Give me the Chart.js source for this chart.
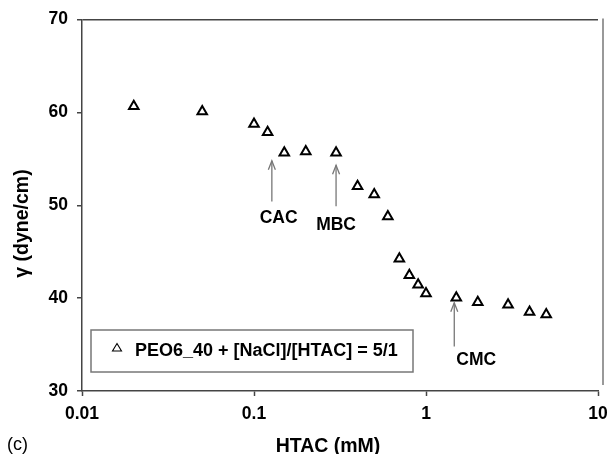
<!DOCTYPE html>
<html><head><meta charset="utf-8">
<script src="https://cdn.jsdelivr.net/npm/chart.js@4.4.1/dist/chart.umd.min.js"></script>
<style>html,body{margin:0;padding:0;background:#fff;overflow:hidden}#wrap{width:607px;height:454px;position:relative}</style>
</head><body><div id="wrap"><canvas id="c" width="607" height="454"></canvas></div>
<script>
// ---- data ----
const htacConc = [0.02, 0.05, 0.1, 0.12, 0.15, 0.2, 0.3, 0.4, 0.5, 0.6, 0.7, 0.8, 0.9, 1, 1.5, 2, 3, 4, 5];
const surfaceTension = [60.65, 60.1, 58.75, 57.85, 55.65, 55.8, 55.65, 52.05, 51.15, 48.8, 44.25, 42.45, 41.45, 40.5, 40.05, 39.55, 39.3, 38.5, 38.25];
const seriesLabel = 'PEO6_40 + [NaCl]/[HTAC] = 5/1';
const xTickValues = [0.01, 0.1, 1, 10];
const xTickLabels = ['0.01', '0.1', '1', '10'];
const yTickValues = [30, 40, 50, 60, 70];
const xAxisTitle = 'HTAC (mM)';
const yAxisTitle = 'γ (dyne/cm)';
const panelLabel = '(c)';
const markerNames = ['CAC', 'MBC', 'CMC'];
const markerConc = [0.127, 0.30, 1.46];
const arrowTipGamma = [54.8, 54.3, 39.5];
const arrowTailGamma = [50.4, 49.9, 34.8];
const markerTextConc = [0.139, 0.30, 1.96];
const markerTextGamma = [48.6, 47.9, 33.3];

const FONT = "'Liberation Sans', Arial, Helvetica, sans-serif";
const AXIS = '#444';

const extras = {
  id: 'extras',
  afterDraw(chart) {
    const ctx = chart.ctx, ca = chart.chartArea;
    const xs = chart.scales.x, ys = chart.scales.y;
    ctx.save();
    // right frame line
    ctx.strokeStyle = '#777'; ctx.lineWidth = 1.5;
    ctx.beginPath(); ctx.moveTo(ca.right + 5, ca.top - 1); ctx.lineTo(ca.right + 5, ca.bottom - 6); ctx.stroke();
    // arrows
    ctx.strokeStyle = '#777'; ctx.lineWidth = 1.3;
    for (let i = 0; i < markerNames.length; i++) {
      const px = xs.getPixelForValue(markerConc[i]);
      const yt = ys.getPixelForValue(arrowTipGamma[i]);
      const yb = ys.getPixelForValue(arrowTailGamma[i]);
      ctx.beginPath(); ctx.moveTo(px, yb); ctx.lineTo(px, yt); ctx.stroke();
      ctx.beginPath(); ctx.moveTo(px - 3.5, yt + 9); ctx.lineTo(px, yt); ctx.lineTo(px + 3.5, yt + 9); ctx.stroke();
    }
    ctx.fillStyle = '#000';
    ctx.font = 'bold 17.5px ' + FONT;
    ctx.textAlign = 'center'; ctx.textBaseline = 'middle';
    for (let i = 0; i < markerNames.length; i++) {
      ctx.fillText(markerNames[i], xs.getPixelForValue(markerTextConc[i]), ys.getPixelForValue(markerTextGamma[i]));
    }
    // legend box
    const lx = ca.left + 9, ly = ca.bottom - 61, lw = 322, lh = 42;
    ctx.fillStyle = '#fff'; ctx.fillRect(lx, ly, lw, lh);
    ctx.strokeStyle = '#777'; ctx.lineWidth = 1.5; ctx.strokeRect(lx, ly, lw, lh);
    const ds = chart.data.datasets[0];
    const tx = lx + 26, ty = ly + 18;
    ctx.strokeStyle = '#000'; ctx.lineWidth = 1.1;
    ctx.beginPath(); ctx.moveTo(tx, ty - 4.5); ctx.lineTo(tx + 4.5, ty + 3); ctx.lineTo(tx - 4.5, ty + 3); ctx.closePath();
    ctx.fillStyle = '#fff'; ctx.fill(); ctx.stroke();
    ctx.fillStyle = '#000'; ctx.font = 'bold 18px ' + FONT;
    ctx.textAlign = 'left'; ctx.textBaseline = 'middle';
    ctx.fillText(ds.label, lx + 44, ly + 21);
    // axis titles
    ctx.font = 'bold 19.5px ' + FONT; ctx.textAlign = 'center';
    ctx.fillText(xAxisTitle, ca.left + 246, ca.bottom + 56);
    ctx.save(); ctx.translate(23, ca.top + 204); ctx.rotate(-Math.PI / 2);
    ctx.fillText(yAxisTitle, 0, 0); ctx.restore();
    // panel label
    ctx.font = '18px ' + FONT; ctx.textAlign = 'left';
    ctx.fillText(panelLabel, 7, 445);
    ctx.restore();
  }
};

new Chart(document.getElementById('c'), {
  type: 'scatter',
  data: {
    datasets: [{
      label: seriesLabel,
      data: htacConc.map((x, i) => ({ x: x, y: surfaceTension[i] })),
      pointStyle: 'triangle',
      pointRadius: 5.5,
      pointHoverRadius: 5.5,
      pointBorderWidth: 2,
      borderColor: '#000',
      backgroundColor: '#fff',
      showLine: false
    }]
  },
  options: {
    responsive: false,
    devicePixelRatio: 1,
    animation: false,
    layout: { padding: { top: 18, right: 9, left: 0, bottom: 0 } },
    plugins: { legend: { display: false }, tooltip: { enabled: false } },
    scales: {
      x: {
        type: 'logarithmic', min: 0.01, max: 10,
        afterBuildTicks: s => { s.ticks = xTickValues.map(v => ({ value: v })); },
        afterFit: s => { s.height = 63; s.paddingRight = 0; s.paddingLeft = 0; },
        ticks: {
          autoSkip: false, maxRotation: 0, padding: 8, color: '#000',
          font: { family: FONT, size: 17.5, weight: 'bold' },
          callback: v => { const k = xTickValues.indexOf(v); return k >= 0 ? xTickLabels[k] : ''; }
        },
        grid: { drawOnChartArea: false, drawTicks: true, tickLength: 5, tickColor: AXIS, tickWidth: 1.5 },
        border: { display: true, color: AXIS, width: 1.5 },
        title: { display: false, text: xAxisTitle }
      },
      y: {
        type: 'linear', min: 30, max: 70,
        afterBuildTicks: s => { s.ticks = yTickValues.map(v => ({ value: v })); },
        afterFit: s => { s.width = 82; },
        ticks: {
          padding: 9, color: '#000',
          font: { family: FONT, size: 17.5, weight: 'bold' },
          callback: v => String(v)
        },
        grid: {
          drawOnChartArea: true, drawTicks: true, tickLength: 5, tickColor: AXIS, tickWidth: 1.5,
          lineWidth: 1.5,
          color: c => (c.tick && c.tick.value === 70) ? AXIS : 'rgba(0,0,0,0)'
        },
        border: { display: true, color: AXIS, width: 1.5 },
        title: { display: false, text: yAxisTitle }
      }
    }
  },
  plugins: [extras]
});
</script>
</body></html>
